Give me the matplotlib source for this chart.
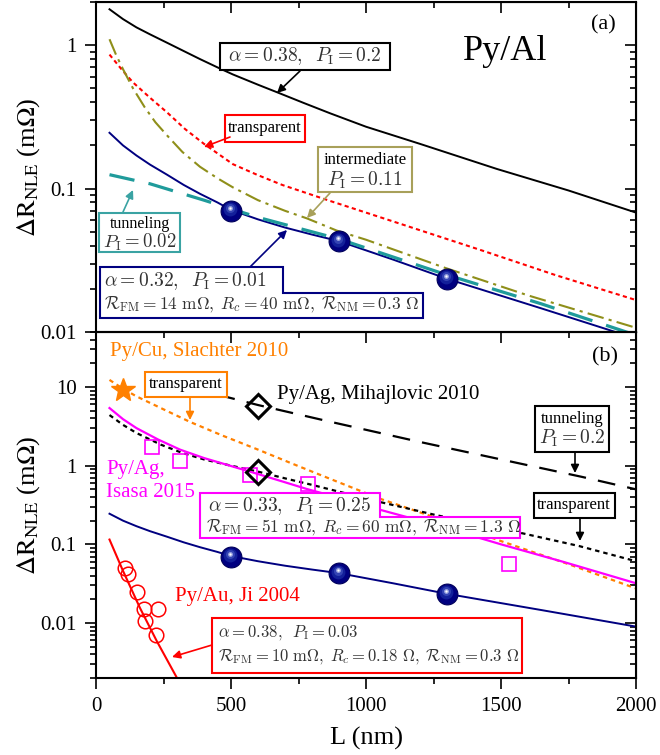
import numpy as np
import matplotlib
matplotlib.use('Agg')
import matplotlib.pyplot as plt
from matplotlib.patches import Polygon
from matplotlib.transforms import offset_copy
from matplotlib.ticker import MultipleLocator, LogLocator, FuncFormatter, NullFormatter

plt.rcParams['font.family'] = ['Liberation Serif', 'DejaVu Serif']
plt.rcParams['mathtext.fontset'] = 'cm'

# ---- panel (a): Py/Al ----
L_a38 = [50, 100, 150, 200, 263, 325, 385, 450, 507, 600, 670, 770, 867, 1000, 1200, 1485, 1750, 2000]
R_a38 = [1.78, 1.52, 1.33, 1.19, 1.04, 0.91, 0.80, 0.70, 0.625, 0.53, 0.47, 0.395, 0.335, 0.27, 0.205,
         0.137, 0.097, 0.068]

L_transp_a = [50, 100, 137, 200, 263, 330, 400, 507, 600, 690, 867, 1000, 1150, 1430, 1700, 2000]
R_transp_a = [0.86, 0.66, 0.55, 0.43, 0.34, 0.26, 0.205, 0.148, 0.124, 0.106, 0.082, 0.068, 0.055,
              0.037, 0.025, 0.0167]

L_inter_a = [50, 75, 100, 137, 180, 220, 263, 320, 385, 450, 507, 600, 700, 781, 891, 1000, 1293, 1600, 2000]
R_inter_a = [1.1, 0.85, 0.68, 0.50, 0.37, 0.29, 0.235, 0.18, 0.142, 0.118, 0.102, 0.083, 0.07, 0.062,
             0.051, 0.044, 0.028, 0.018, 0.0107]

L_tunnel_a = [50, 200, 400, 600, 900, 1300, 1650, 2000]
R_tunnel_a = [0.125, 0.108, 0.083, 0.063, 0.0445, 0.025, 0.0157, 0.0095]

# alpha = 0.32, P_I = 0.01 fit (same in both panels)
L_al = [50, 100, 150, 200, 263, 325, 385, 450, 500, 600, 700, 800, 900, 1100, 1300, 1650, 2000]
R_al = [0.245, 0.2, 0.17, 0.147, 0.125, 0.106, 0.092, 0.08, 0.071, 0.061, 0.0535, 0.0478, 0.043,
        0.032, 0.0235, 0.0146, 0.009]

L_al_exp = [500, 900, 1300]
R_al_exp = [0.07, 0.043, 0.0235]

# ---- panel (b) ----
L_mih_tun = [450, 600, 870, 1200, 1500, 1800, 2000]
R_mih_tun = [8.0, 5.9, 3.6, 2.0, 1.2, 0.72, 0.50]

L_mih_tr = [50, 100, 150, 240, 320, 400, 500, 600, 700, 800, 930, 1060, 1260, 1420, 1580, 1790, 2000]
R_mih_tr = [4.4, 3.3, 2.6, 1.85, 1.45, 1.2, 1.0, 0.84, 0.69, 0.57, 0.44, 0.34, 0.235, 0.18, 0.138,
            0.095, 0.061]

L_isa_fit = [50, 100, 150, 230, 311, 400, 500, 596, 690, 781, 900, 1052, 1200, 1300, 1500, 1730, 2000]
R_isa_fit = [5.4, 3.9, 3.0, 2.15, 1.6, 1.25, 0.99, 0.79, 0.63, 0.505, 0.39, 0.275, 0.2, 0.16, 0.1,
             0.06, 0.032]

L_sla_fit = [50, 100, 150, 250, 348, 470, 600, 730, 867, 1052, 1263, 1500, 1750, 2000]
R_sla_fit = [12.3, 9.5, 7.6, 5.2, 3.6, 2.4, 1.6, 1.05, 0.68, 0.38, 0.215, 0.11, 0.056, 0.0275]

L_au_fit = [50, 100, 163, 225, 300]
R_au_fit = [0.115, 0.046, 0.0155, 0.0059, 0.002]

L_au = [107, 119, 152, 178, 230, 181, 222]
R_au = [0.0497, 0.0417, 0.0247, 0.0151, 0.0151, 0.0106, 0.0071]

L_isa = [208, 311, 570, 785, 1530]
R_isa = [1.74, 1.16, 0.77, 0.59, 0.056]

L_mih = [600, 600]
R_mih = [5.7, 0.84]

L_sla = [100]
R_sla = [9.2]

NAVY = '#000080'
TEAL = '#1f9b9b'
OLIVE = '#8f8f1a'
ORANGE = '#ff8000'
MAG = '#ff00ff'
GRAY = '#333333'

fig = plt.figure(figsize=(6.6, 7.55), dpi=100)
ax1 = fig.add_axes([96/660, 1-332/755, 540/660, 330/755])
ax2 = fig.add_axes([96/660, 1-678/755, 540/660, 346/755])


def pa(px, py):
    return ((px-96)/540, (332-py)/330)


def pb(px, py):
    return ((px-96)/540, (678-py)/346)


def style(ax, ylim):
    ax.set_yscale('log')
    ax.set_xlim(0, 2000)
    ax.set_ylim(*ylim)
    for s in ax.spines.values():
        s.set_linewidth(1.5)
    ax.xaxis.set_major_locator(MultipleLocator(500))
    ax.xaxis.set_minor_locator(MultipleLocator(250))
    ax.yaxis.set_major_locator(LogLocator(base=10, numticks=20))
    ax.yaxis.set_minor_locator(LogLocator(base=10, subs=np.arange(2, 10)*1.0, numticks=50))
    ax.yaxis.set_major_formatter(FuncFormatter(lambda v, p: f'{v:g}'))
    ax.yaxis.set_minor_formatter(NullFormatter())
    ax.tick_params(which='both', direction='out', width=1.2, labelsize=15, pad=6)
    ax.tick_params(which='major', length=8)
    ax.tick_params(which='minor', length=4)
    # mirrored ticks pointing inward
    sx = ax.secondary_xaxis('top')
    sx.xaxis.set_major_locator(MultipleLocator(500))
    sx.xaxis.set_minor_locator(MultipleLocator(250))
    sx.tick_params(which='both', direction='in', width=1.2, labeltop=False)
    sx.tick_params(which='major', length=8)
    sx.tick_params(which='minor', length=4)
    sy = ax.secondary_yaxis('right')
    sy.yaxis.set_major_locator(LogLocator(base=10, numticks=20))
    sy.yaxis.set_minor_locator(LogLocator(base=10, subs=np.arange(2, 10)*1.0, numticks=50))
    sy.tick_params(which='both', direction='in', width=1.2, labelright=False)
    sy.tick_params(which='major', length=8)
    sy.tick_params(which='minor', length=4)
    ax.set_ylabel(r'$\Delta\mathrm{R}_{\mathrm{NLE}}$ (m$\Omega$)', fontsize=19,
                  math_fontfamily='stix')
    ax.yaxis.set_label_coords(-0.1, 0.5)


def box(ax, conv, pts, ec):
    ax.add_patch(Polygon([conv(*p) for p in pts], closed=True, transform=ax.transAxes,
                         fc='white', ec=ec, lw=1.5, zorder=6, clip_on=False))


def txt(ax, conv, px, py, s, **kw):
    kw.setdefault('ha', 'center')
    kw.setdefault('va', 'center')
    ax.text(*conv(px, py), s, transform=ax.transAxes, zorder=7, **kw)


def arrow(ax, conv, p0, p1, color):
    ax.annotate('', xy=conv(*p1), xycoords='axes fraction', xytext=conv(*p0),
                textcoords='axes fraction', zorder=6,
                arrowprops=dict(arrowstyle='-|>', color=color, lw=1.2,
                                mutation_scale=12, shrinkA=0, shrinkB=0))


def balls(ax, L, R):
    # shaded spheres
    ax.plot(L, R, 'o', ms=15, color=NAVY, mec='#00005a', mew=0.8, zorder=4)
    shades = [(10, '#13209a', 1.5), (6.5, '#3444b4', 2.5), (3.5, '#9aa4e0', 3), (1.6, 'white', 3)]
    for ms, c, dy in shades:
        tr = offset_copy(ax.transData, fig=fig, x=-1, y=dy, units='dots')
        ax.plot(L, R, 'o', ms=ms, color=c, mec='none', transform=tr, zorder=4)


# ---------- (a) ----------
style(ax1, (0.01, 2))
ax1.tick_params(labelbottom=False)
ax1.plot(L_a38, R_a38, '-', color='black', lw=1.4)
ax1.plot(L_transp_a, R_transp_a, color='red', lw=1.5, ls=(0, (2, 1.6)))
ax1.plot(L_inter_a, R_inter_a, color=OLIVE, lw=1.5, ls=(0, (8, 2.5, 1.5, 2.5)))
ax1.plot(L_al, R_al, '-', color=NAVY, lw=1.4)
ax1.plot(L_tunnel_a, R_tunnel_a, color=TEAL, lw=2.3, ls=(0, (8, 4.5)))
balls(ax1, L_al_exp, R_al_exp)

txt(ax1, pa, 603, 25, '(a)', fontsize=16)
txt(ax1, pa, 505, 52, 'Py/Al', fontsize=26)

box(ax1, pa, [(220, 43), (390, 43), (390, 70), (220, 70)], 'black')
txt(ax1, pa, 305, 56.5, r'$\alpha = 0.38,\;\;P_{\rm I} = 0.2$', fontsize=14, color=GRAY)
arrow(ax1, pa, (300, 71), (277, 93), 'black')

box(ax1, pa, [(225, 115), (305, 115), (305, 142), (225, 142)], 'red')
txt(ax1, pa, 265, 128, 'transparent', fontsize=12)
arrow(ax1, pa, (230, 137), (204, 147), 'red')

box(ax1, pa, [(318, 147), (412, 147), (412, 192), (318, 192)], '#a8a05a')
txt(ax1, pa, 365, 160, 'intermediate', fontsize=12)
txt(ax1, pa, 365, 180, r'$P_{\rm I} = 0.11$', fontsize=14, color=GRAY)
arrow(ax1, pa, (330, 193), (307, 218), '#a8a05a')

box(ax1, pa, [(99, 213), (180, 213), (180, 252), (99, 252)], '#3aa3a3')
txt(ax1, pa, 140, 224, 'tunneling', fontsize=11.5)
txt(ax1, pa, 140, 242, r'$P_{\rm I} = 0.02$', fontsize=13.5, color=GRAY)
arrow(ax1, pa, (123, 212), (133, 190), '#3aa3a3')

box(ax1, pa, [(100, 267), (283, 267), (283, 293), (423, 293), (423, 318), (100, 318)], NAVY)
txt(ax1, pa, 104, 281, r'$\alpha = 0.32,\;\;P_{\rm I} = 0.01$', fontsize=14, color=GRAY, ha='left')
txt(ax1, pa, 104, 305, r'$\mathcal{R}_{\rm FM} = 14\ \mathrm{m}\Omega,\;R_c = 40\ \mathrm{m}\Omega,\;'
    r'\mathcal{R}_{\rm NM} = 0.3\ \Omega$', fontsize=12.5, color=GRAY, ha='left')
arrow(ax1, pa, (250, 267), (287, 230), NAVY)

# ---------- (b) ----------
style(ax2, (0.002, 50))
ax2.plot(L_mih_tun, R_mih_tun, color='black', lw=1.6, ls=(0, (8, 5.5)))
ax2.plot(L_sla_fit, R_sla_fit, color=ORANGE, lw=1.6, ls=(0, (2, 1.8)))
ax2.plot(L_mih_tr, R_mih_tr, color='black', lw=1.6, ls=(0, (2, 1.8)))
ax2.plot(L_isa_fit, R_isa_fit, '-', color=MAG, lw=1.6)
ax2.plot(L_al, R_al, '-', color=NAVY, lw=1.4)
ax2.plot(L_au_fit, R_au_fit, '-', color='red', lw=1.5)

ax2.plot(L_au, R_au, 'o', ms=10.5, mfc='none', mec='red', mew=1.1, zorder=4)
ax2.plot(L_isa, R_isa, 's', ms=9.5, mfc='none', mec=MAG, mew=1.2, zorder=4)
ax2.plot(L_mih, R_mih, 'D', ms=12, mfc='none', mec='black', mew=2.2, zorder=4)
ax2.plot(L_sla, R_sla, '*', ms=18, color=ORANGE, mec=ORANGE, zorder=4)
balls(ax2, L_al_exp, R_al_exp)

ax2.set_xlabel('L (nm)', fontsize=19)
ax2.xaxis.set_label_coords(0.5, -0.14)

txt(ax2, pb, 605, 357, '(b)', fontsize=16)
txt(ax2, pb, 110, 352, 'Py/Cu, Slachter 2010', fontsize=15, color=ORANGE, ha='left')
txt(ax2, pb, 277, 395, 'Py/Ag, Mihajlovic 2010', fontsize=15, ha='left')
txt(ax2, pb, 106, 470, 'Py/Ag,', fontsize=15, color=MAG, ha='left')
txt(ax2, pb, 106, 493, 'Isasa 2015', fontsize=15, color=MAG, ha='left')
txt(ax2, pb, 175, 597, 'Py/Au, Ji 2004', fontsize=15, color='red', ha='left')

box(ax2, pb, [(145, 372), (227, 372), (227, 397), (145, 397)], ORANGE)
txt(ax2, pb, 186, 384, 'transparent', fontsize=12)
arrow(ax2, pb, (190, 397), (190, 420), ORANGE)

box(ax2, pb, [(535, 406), (609, 406), (609, 452), (535, 452)], 'black')
txt(ax2, pb, 572, 419, 'tunneling', fontsize=12)
txt(ax2, pb, 572, 438, r'$P_{\rm I} = 0.2$', fontsize=14, color=GRAY)
arrow(ax2, pb, (575, 452), (575, 473), 'black')

box(ax2, pb, [(534, 493), (615, 493), (615, 518), (534, 518)], 'black')
txt(ax2, pb, 574, 505, 'transparent', fontsize=12)
arrow(ax2, pb, (580, 518), (580, 541), 'black')

box(ax2, pb, [(200, 493), (380, 493), (380, 517), (520, 517), (520, 538), (200, 538)], MAG)
txt(ax2, pb, 208, 506, r'$\alpha = 0.33,\;\;P_{\rm I} = 0.25$', fontsize=14, color=GRAY, ha='left')
txt(ax2, pb, 206, 528, r'$\mathcal{R}_{\rm FM} = 51\ \mathrm{m}\Omega,\;R_c = 60\ \mathrm{m}\Omega,\;'
    r'\mathcal{R}_{\rm NM} = 1.3\ \Omega$', fontsize=12.5, color=GRAY, ha='left')

box(ax2, pb, [(212, 618), (522, 618), (522, 673), (212, 673)], 'red')
txt(ax2, pb, 218, 633, r'$\alpha = 0.38,\;\;P_{\rm I} = 0.03$', fontsize=12, color=GRAY, ha='left')
txt(ax2, pb, 218, 657, r'$\mathcal{R}_{\rm FM} = 10\ \mathrm{m}\Omega,\;R_c = 0.18\ \Omega,\;'
    r'\mathcal{R}_{\rm NM} = 0.3\ \Omega$', fontsize=12, color=GRAY, ha='left')
arrow(ax2, pb, (212, 645), (172, 657), 'red')

fig.savefig('out.png', dpi=100)
